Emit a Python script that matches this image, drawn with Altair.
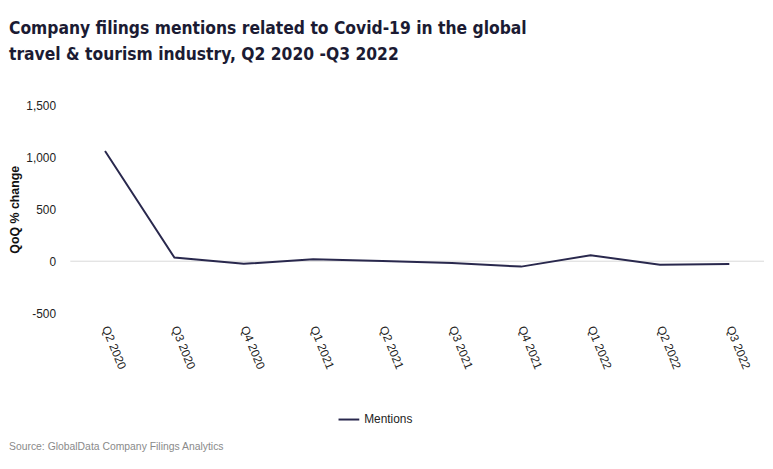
import altair as alt
import pandas as pd

quarters = ["Q2 2020", "Q3 2020", "Q4 2020", "Q1 2021", "Q2 2021",
            "Q3 2021", "Q4 2021", "Q1 2022", "Q2 2022", "Q3 2022"]
mentions = [1060, 35, -25, 18, 2, -18, -52, 57, -35, -27]
series_name = "Mentions"
title_lines = ["Company filings mentions related to Covid-19 in the global",
               "travel & tourism industry, Q2 2020 -Q3 2022"]
source_text = "Source: GlobalData Company Filings Analytics"
y_ticks = [-500, 0, 500, 1000, 1500]

df = pd.DataFrame({"quarter": quarters, "value": mentions, "series": series_name})

W, H = 701, 210
ydom = [-500, 1500]

yaxis = alt.Axis(title="QoQ % change", values=y_ticks,
                 format=",.0f", labelExpr="replace(datum.label, '\u2212', '-')",
                 grid=False, ticks=False, domain=False,
                 labelPadding=15, labelColor="#222222", labelFontSize=12,
                 labelFont="Liberation Sans",
                 titleFont="Liberation Sans", titleFontSize=12.5,
                 titleFontWeight="bold", titleColor="#111111",
                 titleX=-49, titleY=105, titleAlign="center", titleAngle=270)

zero = alt.Chart(pd.DataFrame({"z": [0]})).mark_rule(color="#d9d9d9", strokeWidth=1).encode(
    y=alt.Y("z:Q", scale=alt.Scale(domain=ydom, nice=False), axis=yaxis)
)

line = alt.Chart(df).mark_line(strokeWidth=2).encode(
    x=alt.X("quarter:N", sort=quarters, scale=alt.Scale(type="point", padding=0.5),
            axis=alt.Axis(title=None, labelAngle=68, labelAlign="left", labelBaseline="middle",
                          labelPadding=13, ticks=False, domain=False, grid=False,
                          labelColor="#222222", labelFontSize=12, labelFont="Liberation Sans")),
    y=alt.Y("value:Q", scale=alt.Scale(domain=ydom, nice=False), axis=yaxis),
    color=alt.Color("series:N", scale=alt.Scale(range=["#29284d"]),
                    legend=alt.Legend(title=None, orient="none", legendX=270, legendY=306,
                                      symbolType="stroke", symbolStrokeWidth=2,
                                      symbolSize=440, labelFontSize=12,
                                      labelFont="Liberation Sans", labelColor="#222222")),
)

source = alt.Chart(pd.DataFrame({"t": [source_text]})).mark_text(
    align="left", baseline="middle", fontSize=10.5, color="#8a8a8a", font="Liberation Sans"
).encode(x=alt.value(-62), y=alt.value(345), text="t:N")

chart = alt.layer(zero, line, source).properties(
    width=W, height=H,
    autosize=alt.AutoSizeParams(type="none"),
    padding={"left": 63, "top": 96, "right": 1, "bottom": 145},
    title=alt.TitleParams(text=title_lines, anchor="start", frame="group", dx=-62,
                          offset=18, baseline="bottom", lineHeight=27,
                          font="DejaVu Sans Condensed", fontSize=17.5, fontWeight="bold",
                          color="#1b1b33"),
).configure(background="white").configure_view(stroke=None)

chart.save("out.html", embed_options={"renderer": "svg", "actions": False})
